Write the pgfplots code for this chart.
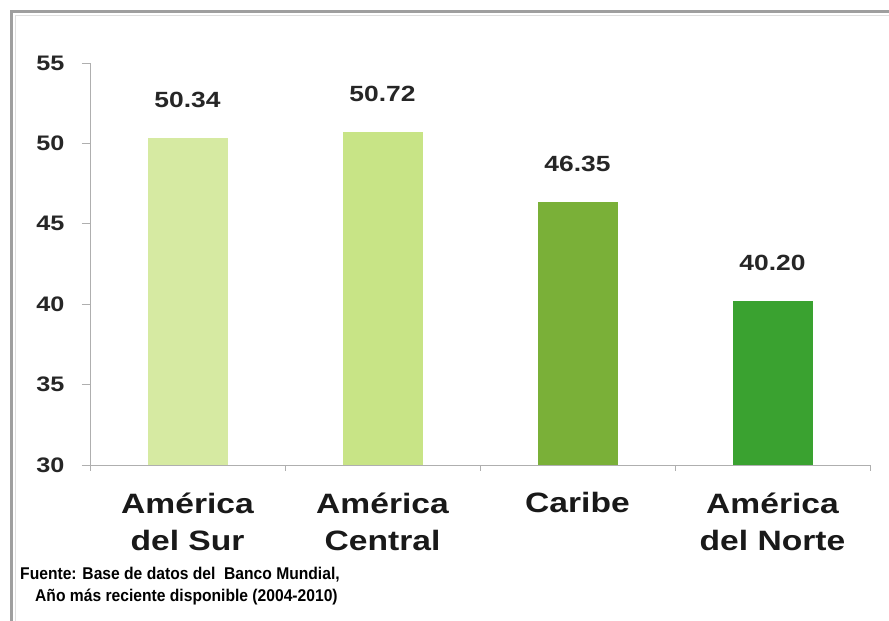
\documentclass[border=0pt]{standalone}
\usepackage{fontspec}
\setmainfont{Liberation Sans}[FakeStretch=1.2]
\newfontfamily\notefont{Liberation Sans}[FakeStretch=0.92]
\usepackage{pgfplots}
\pgfplotsset{compat=1.18}
\definecolor{barA}{RGB}{214,234,162}
\definecolor{barB}{RGB}{200,228,134}
\definecolor{barC}{RGB}{122,176,56}
\definecolor{barD}{RGB}{58,162,48}
\definecolor{axgray}{RGB}{175,175,175}
\begin{document}
\begin{tikzpicture}[x=1pt,y=1pt]
\useasboundingbox (0,0) rectangle (889,621);
\fill[white] (0,0) rectangle (889,621);
% frame, cut by the picture edge on the right and bottom
\draw[gray!75, line width=3pt] (11,-20) -- (11,609) -- (920,609);
\draw[gray!25, line width=1pt] (15,-20) -- (15,605) -- (920,605);
\begin{axis}[
  at={(90pt,156pt)}, anchor=south west,
  scale only axis, width=780pt, height=402pt,
  ybar, bar width=80pt, bar shift=0pt,
  xmin=-0.5, xmax=3.5, ymin=30, ymax=55,
  axis lines*=left,
  axis line style={axgray, line width=0.8pt},
  every tick/.style={axgray, line width=0.8pt},
  tick align=outside,
  major tick length=8pt,
  ytick={30,35,40,45,50,55},
  xtick={0,1,2,3},
  xticklabels={{América\\del Sur},{América\\Central},{Caribe},{América\\del Norte}},
  minor xtick={-0.5,0.5,1.5,2.5,3.5},
  minor tick length=6pt,
  x tick style={draw=none},
  minor x tick style={axgray, draw=axgray},
  /pgf/number format/assume math mode=true,
  yticklabel style={font=\fontsize{21}{24}\selectfont\bfseries, text=black!85, xshift=-14pt},
  xticklabel style={font=\fontsize{28}{37}\selectfont\bfseries, align=center, yshift=-16pt, text=black!90},
  nodes near coords,
  point meta=explicit symbolic,
  every node near coord/.append style={font=\fontsize{22}{24}\selectfont\bfseries, text=black!85, anchor=center, yshift=38pt},
  clip=false,
]
\addplot[fill=barA, draw=none] coordinates {(0,50.34) [50.34]};
\addplot[fill=barB, draw=none] coordinates {(1,50.72) [50.72]};
\addplot[fill=barC, draw=none] coordinates {(2,46.35) [46.35]};
\addplot[fill=barD, draw=none] coordinates {(3,40.20) [40.20]};
\end{axis}
\node[anchor=west, font=\notefont\fontsize{17}{19}\selectfont\bfseries, inner sep=0pt] at (20,46) {Fuente: Base de datos del \ Banco Mundial,};
\node[anchor=west, font=\notefont\fontsize{17}{19}\selectfont\bfseries, inner sep=0pt] at (35,24) {Año más reciente disponible (2004-2010)};
\end{tikzpicture}
\end{document}
